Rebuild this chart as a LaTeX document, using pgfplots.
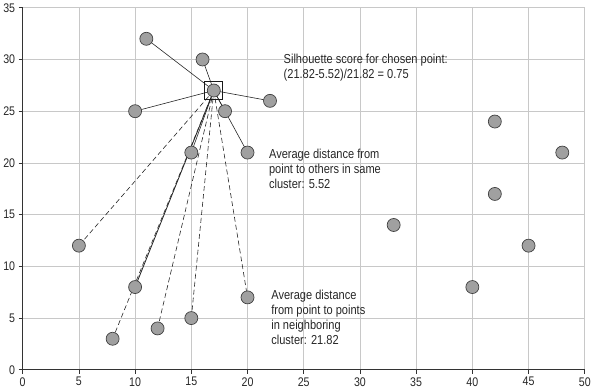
\documentclass[border=0pt]{standalone}
\usepackage{fontspec}
\setmainfont{Liberation Sans}[FakeStretch=0.85]
\usepackage{pgfplots}
\pgfplotsset{compat=1.18}
\definecolor{pt}{HTML}{A0A0A0}
\definecolor{gridc}{HTML}{C8C8C8}
\begin{document}
\begin{tikzpicture}
\begin{axis}[
  scale only axis, width=562pt, height=362pt,
  xmin=0, xmax=50, ymin=0, ymax=35,
  xtick={0,5,...,50}, ytick={0,5,...,35},
  axis x line=bottom, axis y line=left,
  axis line style={black!80, line width=0.8pt, -},
  grid=major, major grid style={gridc, line width=0.6pt},
  tick align=outside, major tick length=4pt,
  tick style={black!80, line width=0.6pt},
  tick label style={font=\fontsize{12.5}{14}\selectfont, text=black!85},
  /pgf/number format/assume math mode=true,
  clip=false,
]
% chosen point
\addplot[only marks, mark=*, mark size=6.5pt, mark options={fill=pt, draw=black!75, line width=0.7pt}] coordinates {(17,27)};
% same-cluster lines
\foreach \px/\py in {11/32, 16/30, 22/26, 10/25, 18/25, 15/21, 20/21} {
  \edef\tmp{\noexpand\addplot[black!85, line width=0.6pt] coordinates {(17,27) (\px,\py)};}
  \tmp
}
% neighbouring-cluster lines
\foreach \px/\py in {5/12, 8/3, 12/4, 15/5, 20/7} {
  \edef\tmp{\noexpand\addplot[black!85, line width=0.6pt, dash pattern=on 5pt off 3pt] coordinates {(17,27) (\px,\py)};}
  \tmp
}
\addplot[black!85, line width=0.8pt] coordinates {(17,27) (10,8)};
% points
\addplot[only marks, mark=*, mark size=6.5pt, mark options={fill=pt, draw=black!75, line width=0.7pt}] coordinates {
(11,32) (16,30) (22,26) (10,25) (18,25) (15,21) (20,21)
(5,12) (10,8) (8,3) (12,4) (15,5) (20,7)
(33,14) (40,8) (42,24) (42,17) (45,12) (48,21)
};
\addplot[only marks, mark=square, mark size=9pt, mark options={draw=black!90, line width=1.2pt}] coordinates {(17,27)};
% annotations
\node[anchor=north west, align=left, inner sep=0pt, font=\fontsize{13}{15}\selectfont, text=black!85] at (axis cs:23.2,30.5) {Silhouette score for chosen point:\\(21.82-5.52)/21.82 = 0.75};
\node[anchor=north west, align=left, inner sep=0pt, font=\fontsize{13}{15}\selectfont, text=black!85] at (axis cs:21.9,21.4) {Average distance from\\point to others in same\\cluster: 5.52};
\node[anchor=north west, align=left, inner sep=0pt, font=\fontsize{13}{15}\selectfont, text=black!85] at (axis cs:22.1,7.7) {Average distance\\from point to points\\in neighboring\\cluster: 21.82};
\end{axis}
\end{tikzpicture}
\end{document}
